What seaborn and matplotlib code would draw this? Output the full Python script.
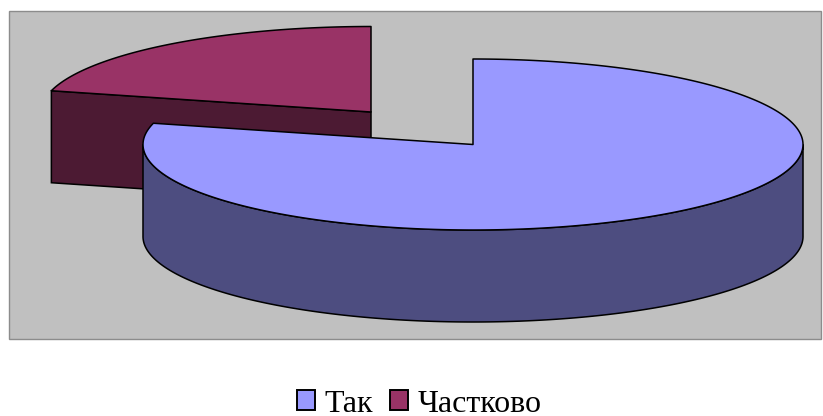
import numpy as np
import matplotlib
matplotlib.use("Agg")
import matplotlib.pyplot as plt
from matplotlib.patches import Patch, Rectangle
import seaborn as sns

#data
labels = ["Так", "Частково"]
shares = [79, 21]
top_colors = ["#9999FF", "#993366"]
side_colors = ["#4D4D80", "#4C1A33"]

#layout in pixels
RX, RY = 330, 85.5
DEPTH = 92
BLUE_CENTER = (473, 144.5)
RED_CENTER = (371, 112)

sns.set_theme(style="white")
plt.rcParams["font.family"] = ["Liberation Serif", "DejaVu Serif"]


def rim(center, start, end, drop=0):
    #points on the ellipse between two angles (degrees, counter clockwise)
    t = np.radians(np.linspace(start, end, 300))
    return center[0] + RX * np.cos(t), center[1] - RY * np.sin(t) + drop


def wedge_top(ax, center, start, end, color):
    x, y = rim(center, start, end)
    ax.fill(np.r_[center[0], x], np.r_[center[1], y], facecolor=color,
            edgecolor="black", lw=1.1, joinstyle="round")


def outer_side(ax, center, start, end, color):
    x, y = rim(center, start, end)
    xb, yb = rim(center, end, start, DEPTH)
    ax.fill(np.r_[x, xb], np.r_[y, yb], facecolor=color, edgecolor="black", lw=1.1)


def cut_side(ax, center, angle, color):
    x, y = rim(center, angle, angle)
    px = [center[0], x[0], x[0], center[0]]
    py = [center[1], y[0], y[0] + DEPTH, center[1] + DEPTH]
    ax.fill(px, py, facecolor=color, edgecolor="black", lw=1.1)


def main():
    fig = plt.figure(figsize=(8.23, 4.16), dpi=100, facecolor="white")
    ax = fig.add_axes([0, 0, 1, 1])
    ax.set_xlim(0, 823)
    ax.set_ylim(416, 0)
    ax.axis("off")

    #plot area
    ax.add_patch(Rectangle((9.5, 10.5), 812, 328, facecolor="#C0C0C0",
                           edgecolor="#8C8C8C", lw=1.0))

    #slices go clockwise from the top
    blue_sweep = 360 * shares[0] / sum(shares)
    cut_angle = 90 - blue_sweep + 360

    #exploded red slice first, it sits behind
    cut_side(ax, RED_CENTER, cut_angle, side_colors[1])
    wedge_top(ax, RED_CENTER, 90, cut_angle, top_colors[1])

    #blue slice
    outer_side(ax, BLUE_CENTER, 180, 360, side_colors[0])
    wedge_top(ax, BLUE_CENTER, cut_angle - 360, 90, top_colors[0])

    handles = [Patch(facecolor=c, edgecolor="black", lw=1.4) for c in top_colors]
    ax.legend(handles, labels, loc="center", bbox_to_anchor=(419.5 / 823, 1 - 404 / 416),
              ncol=2, frameon=False, fontsize=23, handlelength=0.56, handleheight=0.56,
              handletextpad=0.31, columnspacing=0.53, borderpad=0, borderaxespad=0,
              labelcolor="black")

    fig.savefig("out.png", dpi=100)
    plt.close(fig)


if __name__ == "__main__":
    main()
